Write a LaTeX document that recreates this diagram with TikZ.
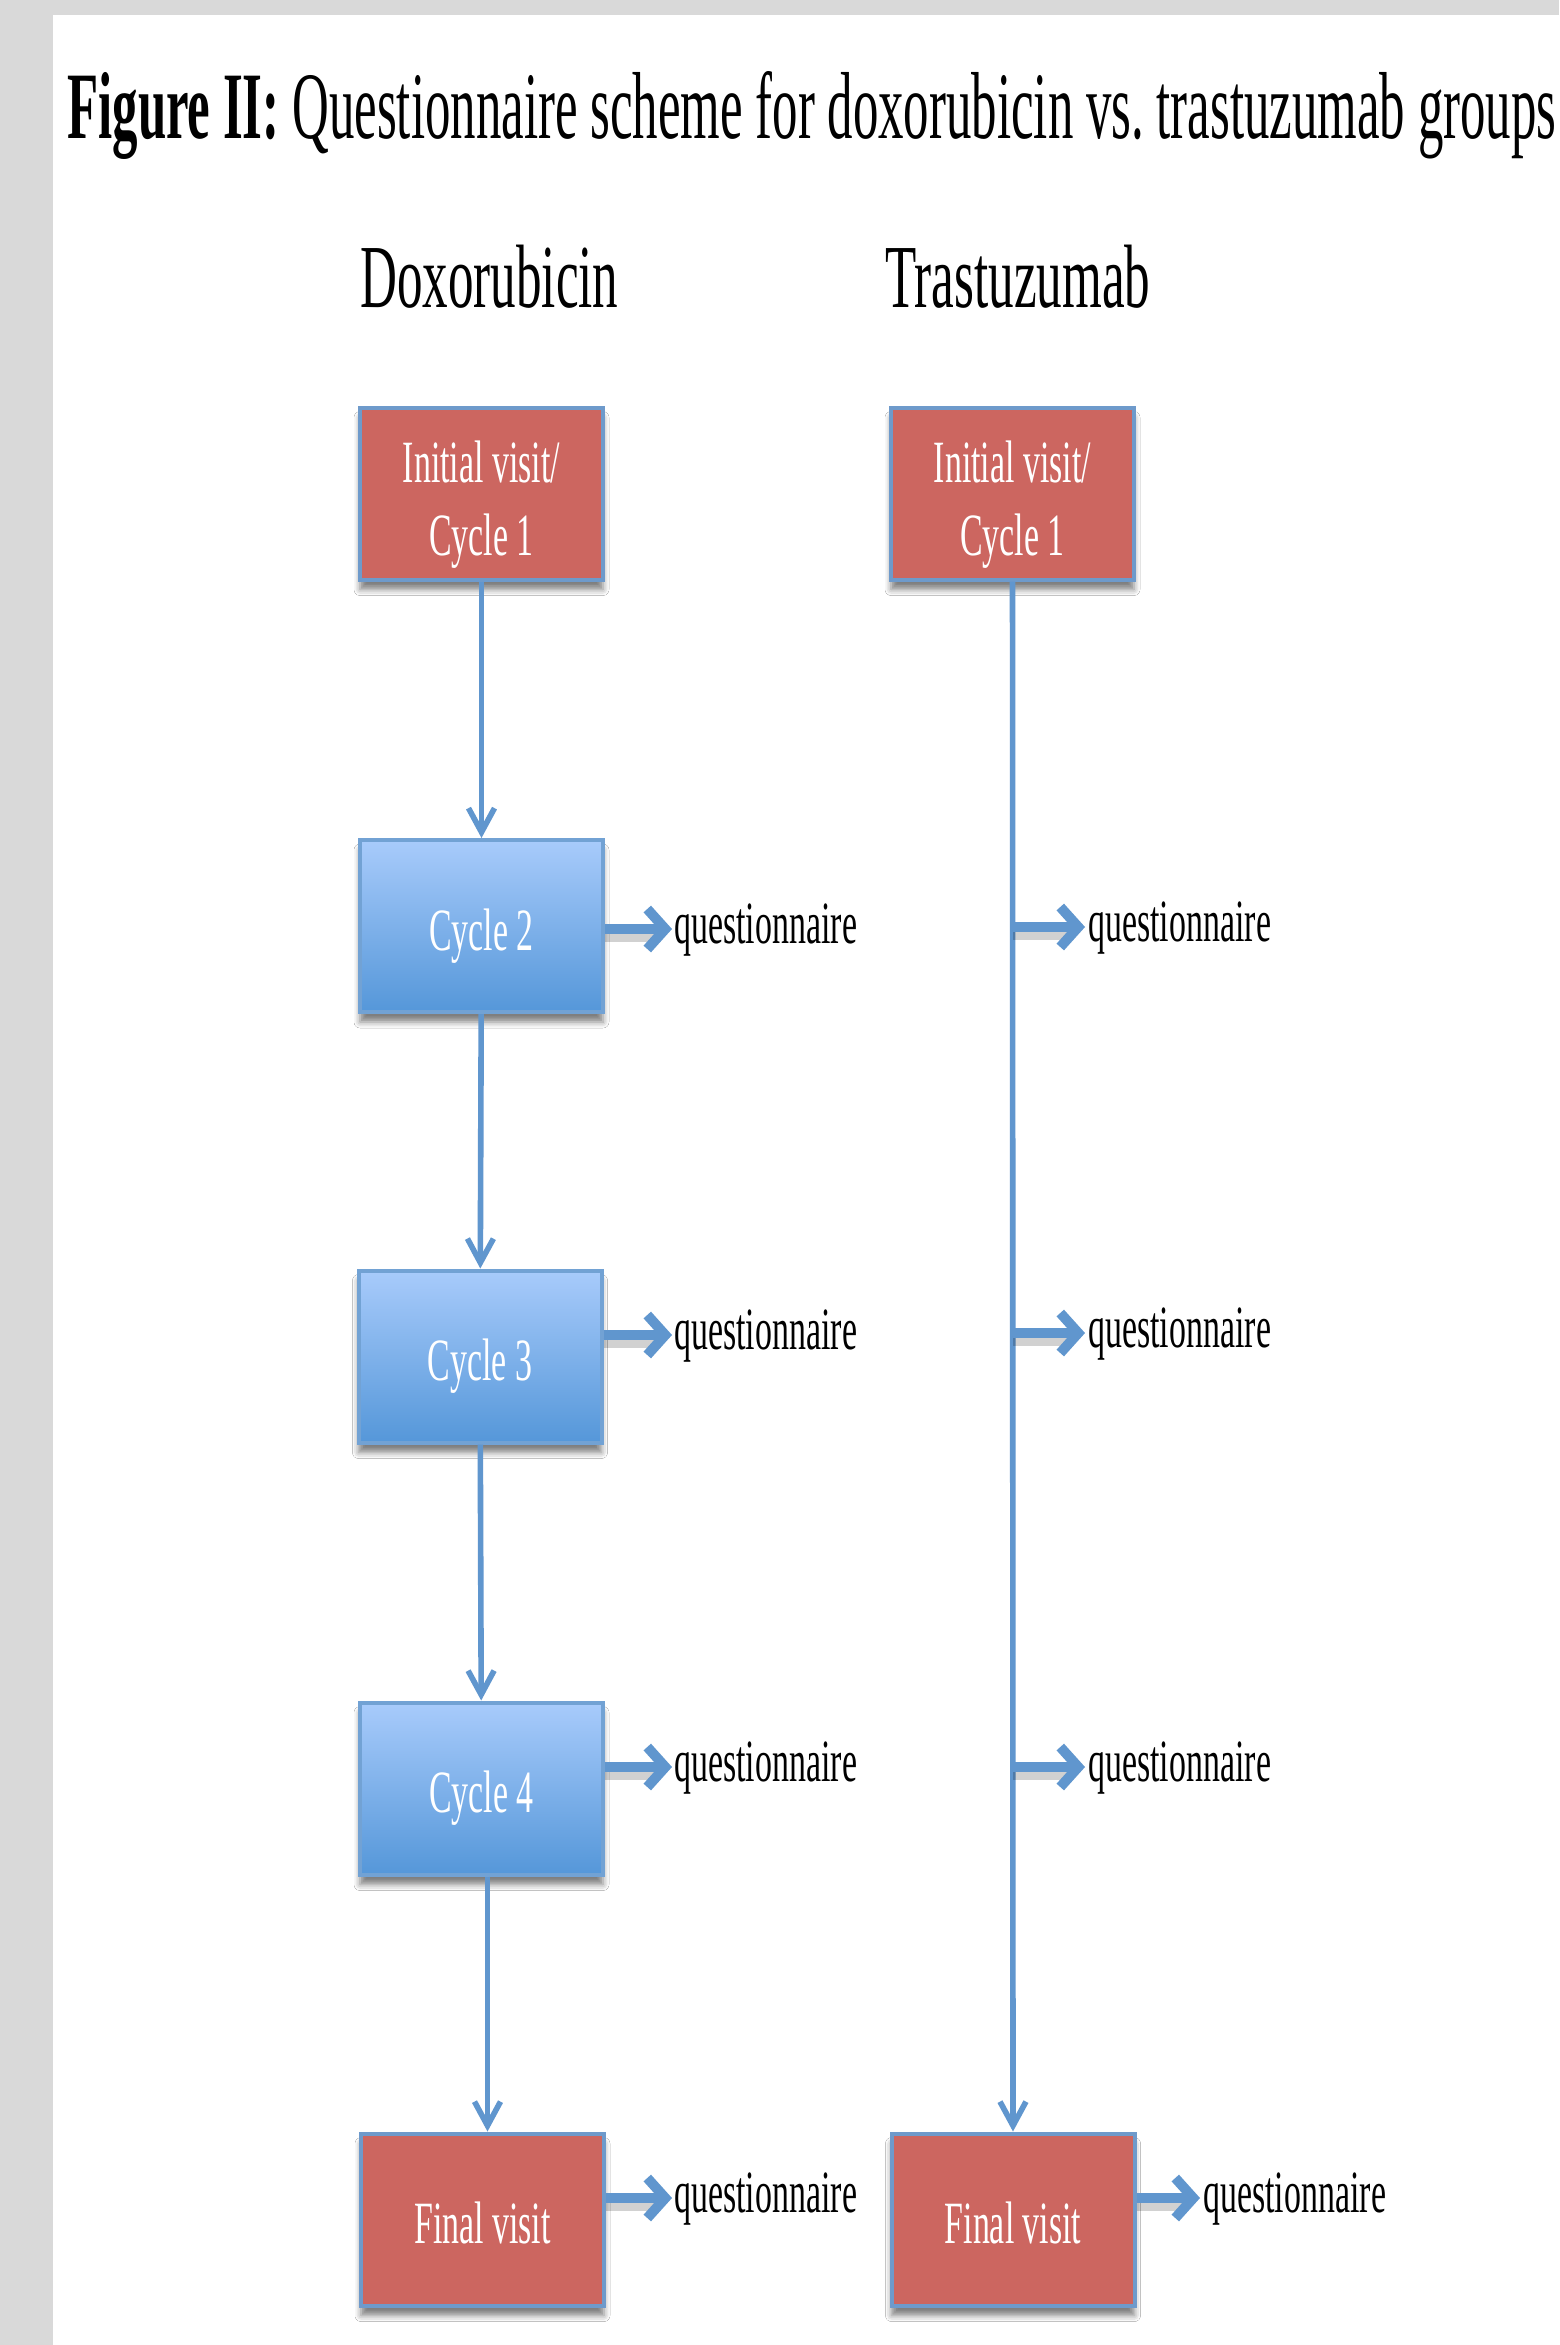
\documentclass[tikz,border=0pt]{standalone}
\usepackage{fontspec}
\setmainfont{Liberation Serif}
\usetikzlibrary{arrows.meta,shadows.blur,calc}
\definecolor{bgGrey}{HTML}{D9D9D9}
\definecolor{boxRed}{HTML}{CC6660}
\definecolor{edgeBlue}{HTML}{6E9ACB}
\definecolor{arrowBlue}{HTML}{6096CE}
\definecolor{topBlue}{HTML}{A8CBFB}
\definecolor{botBlue}{HTML}{5597D9}
\definecolor{edgeLight}{HTML}{72A2D4}
\newcommand{\boxfont}{\fontsize{30}{36.5}\selectfont}
\newcommand{\sq}[1]{\scalebox{0.565}[1]{#1}}
\newcommand{\lowered}[2]{\raisebox{#1}[0pt][0pt]{#2}}
\begin{document}
\begin{tikzpicture}[x=0.5pt,y=-0.5pt,
  basebox/.style={minimum width=121.5pt, minimum height=86pt, inner sep=0pt, line width=2pt, text=white, font=\boxfont, align=center,
    blur shadow={shadow xshift=0pt, shadow yshift=-5pt, shadow opacity=50, shadow blur radius=3pt}},
  redbox/.style={basebox, fill=boxRed, draw=edgeBlue},
  bluebox/.style={basebox, top color=topBlue, bottom color=botBlue, draw=edgeLight},
  vflow/.style={draw=arrowBlue, line width=2.8pt, -{Straight Barb[length=12pt,width=13pt]}},
  qflow/.style={draw=arrowBlue, line width=5pt, -{Straight Barb[length=9pt,width=20pt]}},
  qshadow/.style={draw=black, opacity=0.18, line width=5pt},
  qtext/.style={anchor=base west, inner sep=0pt, font=\boxfont},
  head/.style={anchor=base west, inner sep=0pt},
]
\useasboundingbox (0,0) rectangle (1559,2345);
\fill[bgGrey] (0,0) rectangle (1559,2345);
\fill[white] (53,15) rectangle (1559,2345);

% title and column headers
\node[head] (title) at (67,138) {\resizebox{744.5pt}{\height}{\fontsize{47.6}{50}\selectfont\textbf{Figure II:} Questionnaire scheme for doxorubicin vs.\ trastuzumab groups}};
\node[head] (hd) at (360,307) {\resizebox{129pt}{\height}{\fontsize{45}{48}\selectfont Doxorubicin}};
\node[head] (ht) at (885,307) {\resizebox{132.5pt}{\height}{\fontsize{45}{48}\selectfont Trastuzumab}};

% doxorubicin column
\node[redbox] (d1) at (481.5,493.5) {\lowered{-11.7pt}{\sq{\begin{tabular}{@{}c@{}}Initial visit/\\Cycle 1\end{tabular}}}};
\node[bluebox] (d2) at (481.5,926) {\lowered{-12pt}{\sq{Cycle 2}}};
\node[bluebox] (d3) at (480,1356.5) {\lowered{-12pt}{\sq{Cycle 3}}};
\node[bluebox] (d4) at (481.5,1788.5) {\lowered{-12pt}{\sq{Cycle 4}}};
\node[redbox] (d5) at (482.5,2219.5) {\lowered{-12pt}{\sq{Final visit}}};

% trastuzumab column
\node[redbox] (t1) at (1012.5,493.5) {\lowered{-11.7pt}{\sq{\begin{tabular}{@{}c@{}}Initial visit/\\Cycle 1\end{tabular}}}};
\node[redbox] (t5) at (1013,2219.5) {\lowered{-12pt}{\sq{Final visit}}};

% vertical flow
\draw[vflow] (d1) -- (d2);
\draw[vflow] (d2) -- (d3);
\draw[vflow] (d3) -- (d4);
\draw[vflow] ([xshift=3pt]d4.south) -- ([xshift=3pt]d4.south |- d5.north);
\draw[vflow] (t1) -- (t5);

% questionnaire arrow tips
\coordinate (qa) at (672,929);
\coordinate (qb) at (672,1335);
\coordinate (qc) at (672,1767);
\coordinate (qd) at (672,2198);
\coordinate (ra) at (1085,927);
\coordinate (rb) at (1085,1333);
\coordinate (rc) at (1085,1767);
\coordinate (rd) at (1200,2198);

% shadows of questionnaire arrows
\draw[qshadow] ([yshift=-4pt]d2.east |- qa) -- ([yshift=-4pt,xshift=-6pt]qa);
\draw[qshadow] ([yshift=-4pt]d3.east |- qb) -- ([yshift=-4pt,xshift=-6pt]qb);
\draw[qshadow] ([yshift=-4pt]d4.east |- qc) -- ([yshift=-4pt,xshift=-6pt]qc);
\draw[qshadow] ([yshift=-4pt]d5.east |- qd) -- ([yshift=-4pt,xshift=-6pt]qd);
\draw[qshadow] ([yshift=-4pt]t1.south |- ra) -- ([yshift=-4pt,xshift=-6pt]ra);
\draw[qshadow] ([yshift=-4pt]t1.south |- rb) -- ([yshift=-4pt,xshift=-6pt]rb);
\draw[qshadow] ([yshift=-4pt]t1.south |- rc) -- ([yshift=-4pt,xshift=-6pt]rc);
\draw[qshadow] ([yshift=-4pt]t5.east |- rd) -- ([yshift=-4pt,xshift=-6pt]rd);

% questionnaire arrows
\draw[qflow] (d2.east |- qa) -- (qa);
\draw[qflow] (d3.east |- qb) -- (qb);
\draw[qflow] (d4.east |- qc) -- (qc);
\draw[qflow] (d5.east |- qd) -- (qd);
\draw[qflow] (t1.south |- ra) -- (ra);
\draw[qflow] (t1.south |- rb) -- (rb);
\draw[qflow] (t1.south |- rc) -- (rc);
\draw[qflow] (t5.east |- rd) -- (rd);

% questionnaire labels
\node[qtext] (qta) at (674,943) {\sq{questionnaire}};
\node[qtext] (qtb) at (674,1349) {\sq{questionnaire}};
\node[qtext] (qtc) at (674,1781) {\sq{questionnaire}};
\node[qtext] (qtd) at (674,2212) {\sq{questionnaire}};
\node[qtext] (rta) at (1088,941) {\sq{questionnaire}};
\node[qtext] (rtb) at (1088,1347) {\sq{questionnaire}};
\node[qtext] (rtc) at (1088,1781) {\sq{questionnaire}};
\node[qtext] (rtd) at (1203,2212) {\sq{questionnaire}};
\end{tikzpicture}
\end{document}
